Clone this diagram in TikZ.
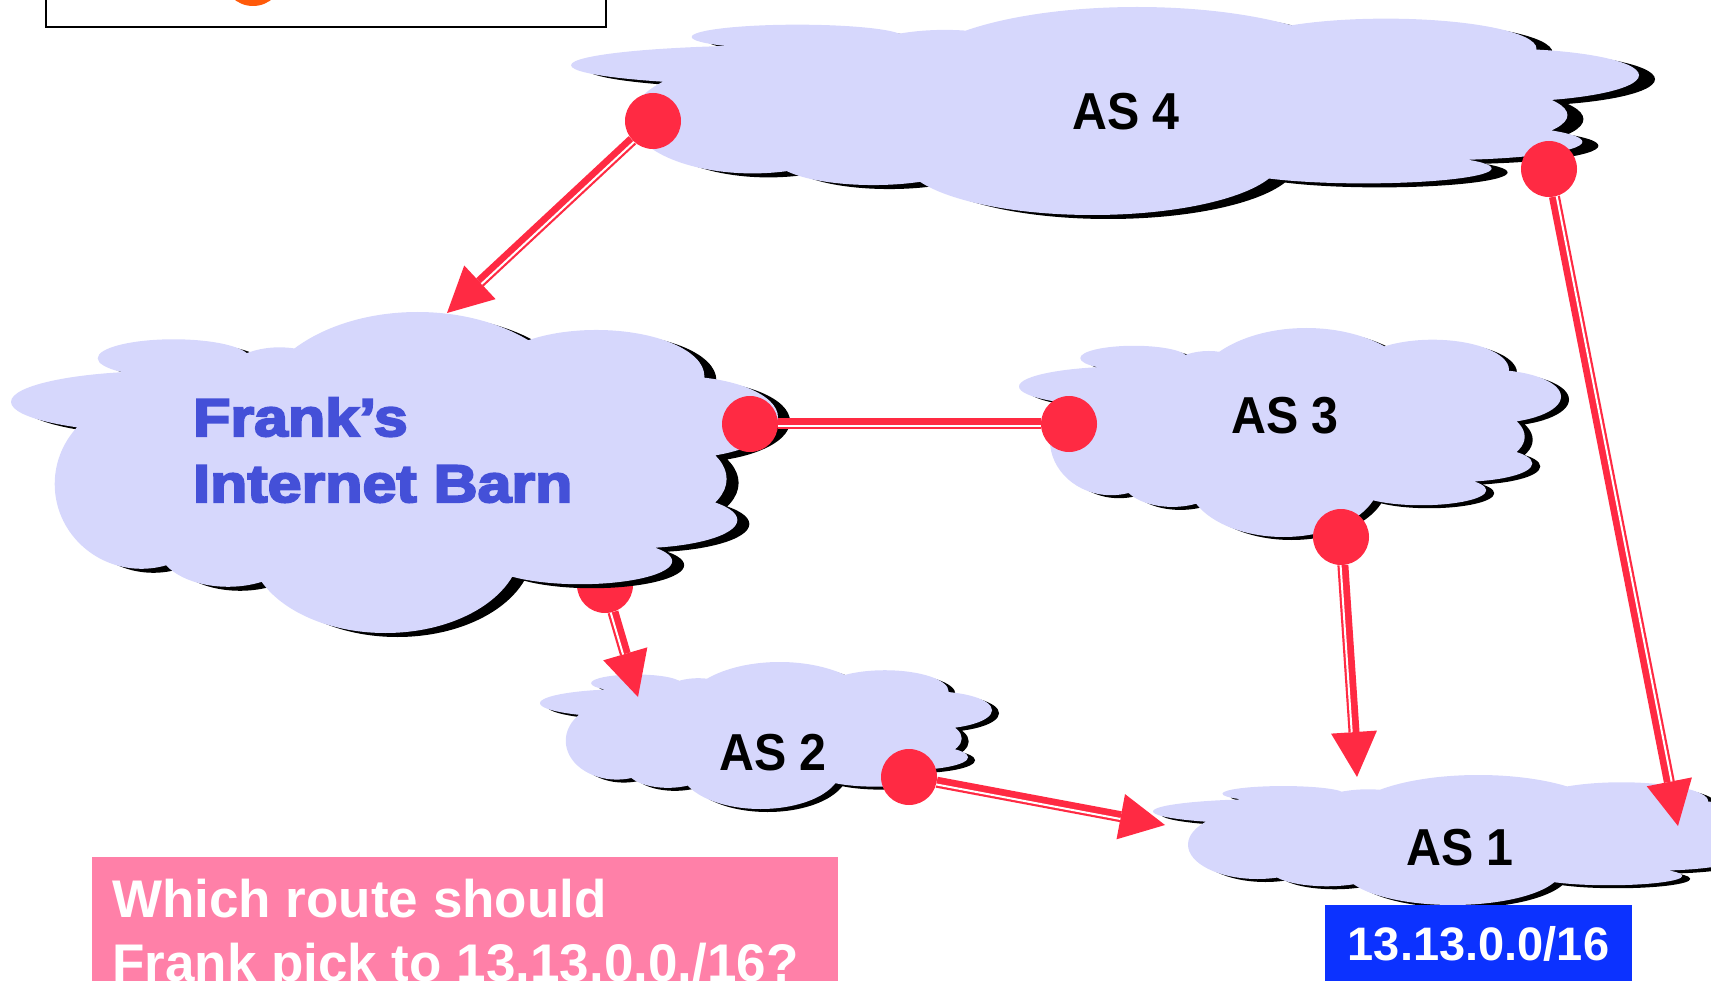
\documentclass[tikz,border=0pt]{standalone}
\usepackage{fontspec}
\setmainfont{Liberation Sans}
\newfontfamily\labelfont{Liberation Sans Bold}[FakeStretch=0.93]
\newfontfamily\barnfont{Liberation Sans Bold}[FakeStretch=1.15,FakeBold=4]
\usetikzlibrary{arrows.meta,calc}

\definecolor{cloudfill}{RGB}{214,215,252}
\definecolor{dotred}{RGB}{255,42,67}
\definecolor{barnblue}{RGB}{68,80,216}
\definecolor{askpink}{RGB}{255,128,168}
\definecolor{prefixblue}{RGB}{12,50,255}
\definecolor{sunorange}{RGB}{255,90,10}

\pgfdeclarelayer{base}
\pgfdeclarelayer{under}
\pgfdeclarelayer{franks}
\pgfdeclarelayer{links}
\pgfsetlayers{base,under,franks,links,main}

% cloud outline as a union of ellipses in a unit box (v grows downwards)
\newcommand\cloudpath{%
  (0.198,0.280) ellipse [x radius=0.198, y radius=0.096]
  (0.212,0.144) ellipse [x radius=0.099, y radius=0.059]
  (0.350,0.300) ellipse [x radius=0.100, y radius=0.190]
  (0.530,0.328) ellipse [x radius=0.212, y radius=0.328]
  (0.763,0.200) ellipse [x radius=0.141, y radius=0.144]
  (0.869,0.328) ellipse [x radius=0.131, y radius=0.128]
  (0.799,0.520) ellipse [x radius=0.134, y radius=0.160]
  (0.813,0.648) ellipse [x radius=0.134, y radius=0.088]
  (0.742,0.776) ellipse [x radius=0.120, y radius=0.072]
  (0.488,0.728) ellipse [x radius=0.177, y radius=0.272]
  (0.283,0.728) ellipse [x radius=0.092, y radius=0.128]
  (0.170,0.536) ellipse [x radius=0.113, y radius=0.264]
  (0.500,0.500) ellipse [x radius=0.360, y radius=0.300]}

% #1,#2 top-left corner, #3 width, #4 height, #5,#6 shadow offset
\newcommand\drawcloud[6]{%
  \fill[black, shift={(#1+#5,#2+#6)}, xscale=#3, yscale=#4] \cloudpath;
  \fill[cloudfill, shift={(#1,#2)}, xscale=#3, yscale=#4] \cloudpath;}

% white stripe inside a red link: #1 start, #2 end, #3 side, #4 end setback
\newcommand\gapline[4]{%
  \draw[whitegap] ($(#1)!28pt!(#2)!2.3pt!#3:(#2)$) -- ($(#2)!#4!(#1)!2.3pt!#3:(#2)$);}

\tikzset{
  linkband/.style={draw=dotred, line width=11pt},
  arrowband/.style={linkband, -{Triangle[length=45pt,width=46pt,line width=0pt]}},
  whitegap/.style={draw=white, line width=2pt},
  asdot/.style={circle, fill=dotred, minimum size=56pt, inner sep=0pt},
  aslabel/.style={anchor=base, inner sep=0pt, font=\labelfont\fontsize{52}{60}\selectfont},
  barnlabel/.style={anchor=base west, inner sep=0pt, text=barnblue, font=\barnfont\fontsize{53}{60}\selectfont},
  askbox/.style={fill=askpink, inner sep=0pt},
  asktext/.style={anchor=base west, inner sep=0pt, text=white, font=\bfseries\fontsize{53}{60}\selectfont},
  prefixbox/.style={fill=prefixblue, inner sep=0pt},
  prefixtext/.style={anchor=base, inner sep=0pt, text=white, font=\bfseries\fontsize{47}{56}\selectfont},
  panel/.style={draw=black, line width=2pt, fill=white, inner sep=0pt}
}

\begin{document}
\begin{tikzpicture}[x=1pt, y=-1pt]
\useasboundingbox (0,0) rectangle (1711,981);

% framed panel at the top left
\node[panel, anchor=south west, minimum width=560pt, minimum height=70pt] (panel) at (45,28) {};
\node[circle, fill=sunorange, minimum size=60pt, inner sep=0pt] (sun) at (253,-24) {};

% autonomous systems
\begin{pgfonlayer}{base}
  \drawcloud{571}{7}{1068}{208}{16}{4}
  \drawcloud{1019}{328}{542}{209}{8}{3}
  \drawcloud{540}{662}{452}{147}{7}{3}
  \drawcloud{1153}{775}{614}{130}{8}{3}
\end{pgfonlayer}
\begin{pgfonlayer}{franks}
  \drawcloud{11}{312}{767}{321}{12}{4}
\end{pgfonlayer}

% border routers
\node[asdot] (d1) at (653,121) {};
\node[asdot] (d2) at (1549,169) {};
\node[asdot] (d3) at (750,424) {};
\node[asdot] (d4) at (1069,424) {};
\node[asdot] (d5) at (1341,537) {};
\node[asdot] (d7) at (909,777) {};
\begin{pgfonlayer}{under}
  \node[asdot] (d6) at (605,585) {};
\end{pgfonlayer}

% arrow tips
\coordinate (t1) at (447,313);
\coordinate (t2) at (1678,826);
\coordinate (t4) at (1357,777);
\coordinate (t5) at (638,697);
\coordinate (t6) at (1165,825);

% route announcements
\begin{pgfonlayer}{base}
  \draw[arrowband] (d6) -- (t5);
  \gapline{d6}{t5}{-90}{45pt}
\end{pgfonlayer}
\begin{pgfonlayer}{links}
  \draw[arrowband] (d1) -- (t1);
  \gapline{d1}{t1}{90}{45pt}
  \draw[arrowband] (d2) -- (t2);
  \gapline{d2}{t2}{90}{45pt}
  \draw[linkband] (d3) -- (d4);
  \gapline{d3}{d4}{-90}{28pt}
  \draw[arrowband] (d5) -- (t4);
  \gapline{d5}{t4}{-90}{45pt}
  \draw[arrowband] (d7) -- (t6);
  \gapline{d7}{t6}{-90}{45pt}
\end{pgfonlayer}

% labels
\node[aslabel] (as4) at (1126,130) {AS 4};
\node[aslabel] (as3) at (1285,434) {AS 3};
\node[aslabel] (as2) at (773,770) {AS 2};
\node[aslabel] (as1) at (1460,865) {AS 1};
\node[barnlabel] (barn1) at (193,436) {Frank’s};
\node[barnlabel] (barn2) at (193,502) {Internet Barn};

% question box
\node[askbox, anchor=north west, minimum width=746pt, minimum height=140pt] (ask) at (92,857) {};
\node[asktext] (ask1) at (112,917) {Which route should};
\node[asktext] (ask2) at (112,981) {Frank pick to 13.13.0.0./16?};

% destination prefix
\node[prefixbox, anchor=north west, minimum width=307pt, minimum height=100pt] (prefixbg) at (1325,905) {};
\node[prefixtext] (prefix) at (1478.5,960) {13.13.0.0/16};
\end{tikzpicture}
\end{document}
